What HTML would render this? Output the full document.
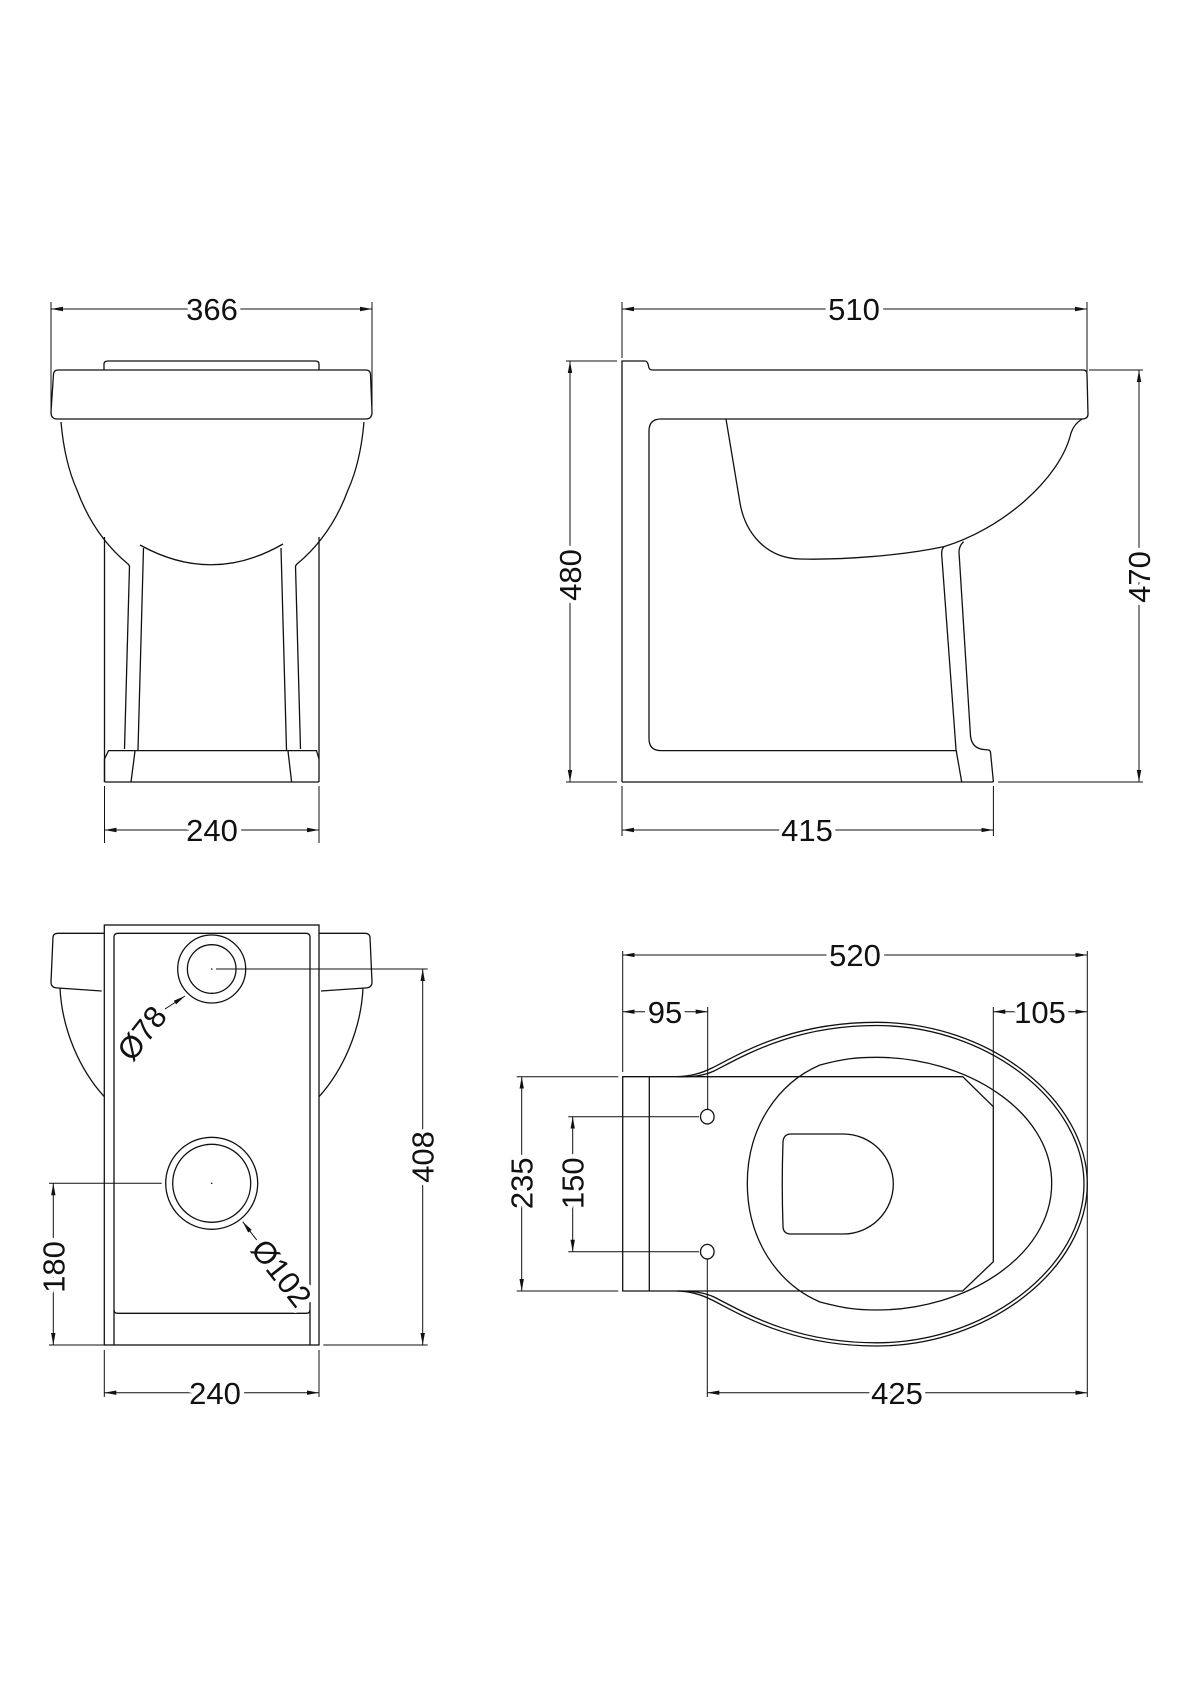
<!DOCTYPE html>
<html><head><meta charset="utf-8"><style>
html,body{margin:0;padding:0;background:#fff}
svg{display:block}
text{font-family:"Liberation Sans",sans-serif;font-size:31px;fill:#111;text-anchor:middle;stroke:#fff;stroke-width:9px;paint-order:stroke;stroke-linejoin:round}
.l{fill:none;stroke:#111;stroke-width:1.3}
.d{fill:none;stroke:#111;stroke-width:1}
</style></head><body>
<svg width="1200" height="1698" viewBox="0 0 1200 1698" xmlns="http://www.w3.org/2000/svg">
<defs>
<marker id="a" viewBox="0 0 12 6" refX="12" refY="3" markerWidth="12" markerHeight="6" markerUnits="userSpaceOnUse" orient="auto-start-reverse"><path d="M0,0.8 L12,3 L0,5.2Z" fill="#111"/></marker>
</defs>

<!-- ========== FRONT VIEW (top-left) ========== -->
<g class="l">
<path d="M104,370 L104,364 Q104,361 108,361 L315,361 Q319,361 319,364 L319,370"/>
<path d="M58,370 L366,370 Q370,370 370.5,374 L372,412 Q372,419 366,419 L57,419 Q51,419 51,412 L53.5,374 Q54,370 58,370Z"/>
<path d="M61,422 C63,445 68,470 77,490 C88,520 105,545 128,564 L129.5,566 L124.5,749"/>
<path d="M364,422 C362,445 357,470 348,490 C337,520 320,545 297,564 L295.5,566 L300.5,749"/>
<path d="M104.5,537 L104.5,782 M319,537 L319,782 M104.5,782 L319,782"/>
<path d="M143.5,548 L138,750 M281,548 L286.5,750"/>
<path d="M140,545 Q212,585 283,544"/>
<path d="M104.5,782 L104.5,759 L108.5,750.6 L316.5,750.6 L319,759"/>
<path d="M135,751 L131,782 M288,751 L291.6,782"/>
</g>
<!-- dims front -->
<g class="d">
<path d="M51,302 L51,414 M372,302 L372,410 M104.5,786 L104.5,843 M319,786 L319,843"/>
<path d="M51,309 L372,309" marker-start="url(#a)" marker-end="url(#a)"/>
<path d="M104.5,830 L319,830" marker-start="url(#a)" marker-end="url(#a)"/>
</g>
<text x="212" y="320">366</text>
<text x="212" y="841">240</text>

<!-- ========== SIDE VIEW (top-right) ========== -->
<g class="l">
<path d="M622,782 L622,361 L645,361 Q647,361 648,364 L649,368 Q650,370 653,370 L1083,370 Q1087,370 1087,374 L1088,414 Q1088,419 1082,419 L661,419 Q649,419 649,431 L649,738.6 Q649,750.6 661,750.6 L956,750.6"/>
<path d="M622,782 L993.4,782"/>
<path d="M726,419 L740,503 C745,532 765,558 800,559 C840,560 900,556 944,546.6 C1000,530 1060,480 1071,433 Q1074,424 1082,419"/>
<path d="M944,546.6 Q941,550 941.8,556 L956,749.4 L961.7,782"/>
<path d="M963.6,541.6 Q959,546 959,552 L970.5,736 Q972,749 985,749.6 L989,750 Q990.5,751 990.6,753 L993.4,782"/>
</g>
<g class="d">
<path d="M622,302 L622,358 M1087,302 L1087,372 M566,361 L617,361 M566,782 L617,782 M1089,370 L1143,370 M998,782 L1143,782 M622,786 L622,836 M993.4,786 L993.4,836"/>
<path d="M622,309 L1087,309" marker-start="url(#a)" marker-end="url(#a)"/>
<path d="M622,830 L993.4,830" marker-start="url(#a)" marker-end="url(#a)"/>
<path d="M570,361 L570,782" marker-start="url(#a)" marker-end="url(#a)"/>
<path d="M1139,370 L1139,782" marker-start="url(#a)" marker-end="url(#a)"/>
</g>
<text x="854" y="320">510</text>
<text x="807" y="841">415</text>
<text transform="translate(581,575) rotate(-90)" x="0" y="0">480</text>
<text transform="translate(1150,577) rotate(-90)" x="0" y="0">470</text>

<!-- ========== BACK VIEW (bottom-left) ========== -->
<g class="l">
<rect x="104.3" y="925" width="214.7" height="420"/>
<path d="M114,1345 L114,937 Q114,933.3 118,933.3 L306,933.3 Q310,933.3 310,937 L310,1345"/>
<path d="M114,1310 Q114,1313.3 118,1313.3 L306,1313.3 Q310,1313.3 310,1310"/>
<path d="M104.3,933.3 L58,933.3 Q53.5,933.3 53,937 L51,982 Q51,988 58,988 L101.7,991"/>
<path d="M60,988 C62,1030 80,1070 104.3,1096.7"/>
<path d="M319,933.3 L365,933.3 Q369.5,933.3 370,937 L372,982 Q372,988 365,988 L321,991"/>
<path d="M363,988 C361,1030 343,1070 319,1096.7"/>
<circle cx="211.7" cy="969" r="34"/>
<circle cx="211.7" cy="969" r="24.3"/>
<circle cx="211.7" cy="1183.3" r="46"/>
<circle cx="211.7" cy="1183.3" r="39"/>
</g>
<circle cx="211.7" cy="969" r="0.8" fill="#111"/>
<circle cx="211.7" cy="1183.3" r="0.8" fill="#111"/>
<g class="d">
<path d="M216,969 L427.7,969 M323.3,1345 L427.7,1345 M49,1183.3 L161.7,1183.3 M49,1345 L104,1345 M104.3,1350 L104.3,1397 M319,1350 L319,1397"/>
<path d="M422.7,969 L422.7,1345" marker-start="url(#a)" marker-end="url(#a)"/>
<path d="M53.3,1183.3 L53.3,1345" marker-start="url(#a)" marker-end="url(#a)"/>
<path d="M104.3,1392.7 L319,1392.7" marker-start="url(#a)" marker-end="url(#a)"/>
<path d="M165,1009 L185,996" marker-end="url(#a)"/>
<path d="M256.7,1240 L242.7,1221.7" marker-end="url(#a)"/>
</g>
<text transform="translate(433.7,1157) rotate(-90)" x="0" y="0">408</text>
<text transform="translate(64.3,1267) rotate(-90)" x="0" y="0">180</text>
<text x="215" y="1404">240</text>
<text transform="translate(141.7,1033) rotate(-52)" x="0" y="11">Ø78</text>
<text transform="translate(281.7,1273) rotate(52)" x="0" y="11">Ø102</text>

<!-- ========== PLAN VIEW (bottom-right) ========== -->
<g class="l">
<path d="M676.7,1076.7 C690,1076 700,1074 712,1068 C740,1054 790,1022.3 876.7,1022.3 C990,1022.3 1087.3,1100 1087.3,1184 C1087.3,1268 990,1346 876.7,1346 C790,1346 740,1314 712,1300 C700,1294 690,1291.5 676.7,1291"/>
<path d="M679,1076.7 C692,1077 703,1076 714,1071 C742,1057 792,1025.5 876.7,1025.5 C988,1025.5 1084,1102 1084,1184 C1084,1266 988,1342.8 876.7,1342.8 C792,1342.8 742,1311 714,1297 C703,1292 692,1291 679,1291"/>
<path d="M622.7,1076.7 L962.7,1076.7 L993.3,1106.7 L993.3,1261.7 L962.7,1291 L622.7,1291 Z"/>
<path d="M649.3,1076.7 L649.3,1291"/>
<path d="M820,1065 C843,1059 855,1057.3 876.7,1057.3 C965,1057.3 1051.7,1110 1051.7,1183.3 C1051.7,1257 965,1310 876.7,1310 C855,1310 843,1308 820,1302 C778,1284 747.3,1240 747.3,1183.3 C747.3,1127 778,1083 820,1065 Z"/>
<path d="M791,1134 L843.3,1134 A50,50 0 0 1 843.3,1234 L791,1234 Q783,1234 783,1226 Q781.5,1184 783,1142 Q783.5,1134 791,1134 Z"/>
<ellipse cx="707.3" cy="1116.7" rx="6.8" ry="7.3"/>
<ellipse cx="707.3" cy="1251.7" rx="6.8" ry="7.3"/>
</g>
<g class="d">
<path d="M622.7,951 L622.7,1072 M1087.3,951 L1087.3,1397 M707.7,1007 L707.7,1109 M993.3,1007 L993.3,1106.7 M707.3,1259 L707.3,1397 M516.7,1076.7 L618.3,1076.7 M516.7,1291 L618.3,1291 M568.3,1116.7 L699,1116.7 M568.3,1251.7 L699,1251.7"/>
<path d="M622.7,955 L1087.3,955" marker-start="url(#a)" marker-end="url(#a)"/>
<path d="M622.7,1011.7 L707.7,1011.7" marker-start="url(#a)" marker-end="url(#a)"/>
<path d="M993.3,1011.7 L1087.3,1011.7" marker-start="url(#a)" marker-end="url(#a)"/>
<path d="M707.3,1392.7 L1087.3,1392.7" marker-start="url(#a)" marker-end="url(#a)"/>
<path d="M521.7,1076.7 L521.7,1291" marker-start="url(#a)" marker-end="url(#a)"/>
<path d="M572.7,1116.7 L572.7,1251.7" marker-start="url(#a)" marker-end="url(#a)"/>
</g>
<text x="855" y="966">520</text>
<text x="665" y="1023">95</text>
<text x="1040" y="1023">105</text>
<text x="897" y="1404">425</text>
<text transform="translate(532.7,1183.3) rotate(-90)" x="0" y="0">235</text>
<text transform="translate(583.7,1183.3) rotate(-90)" x="0" y="0">150</text>
</svg>
</body></html>
